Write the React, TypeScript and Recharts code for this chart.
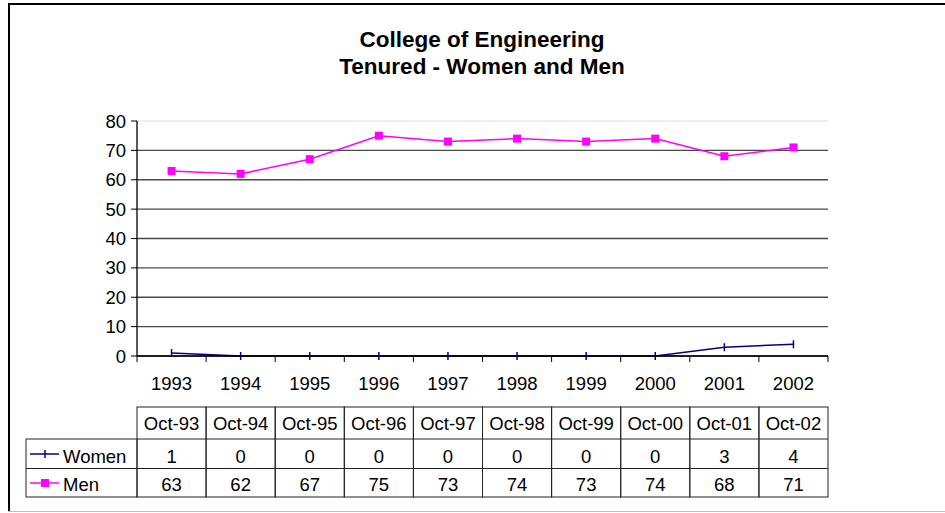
import React from 'react';
import { LineChart, Line, XAxis, YAxis, CartesianGrid } from 'recharts';

const years = ['1993', '1994', '1995', '1996', '1997', '1998', '1999', '2000', '2001', '2002'];
const months = ['Oct-93', 'Oct-94', 'Oct-95', 'Oct-96', 'Oct-97', 'Oct-98', 'Oct-99', 'Oct-00', 'Oct-01', 'Oct-02'];
const women = [1, 0, 0, 0, 0, 0, 0, 0, 3, 4];
const men = [63, 62, 67, 75, 73, 74, 73, 74, 68, 71];
const yTicks = [0, 10, 20, 30, 40, 50, 60, 70, 80];

const data = years.map((year, i) => ({ year, women: women[i], men: men[i] }));

const FONT = '"Liberation Sans", Arial, sans-serif';
const NAVY = '#000080';
const MAGENTA = '#FF00FF';
const W = 945;
const H = 513;
const PLOT_LEFT = 137;
const PLOT_RIGHT = 828;
const LEGEND_LEFT = 26;
const FS = 18.5;

// Women marker: a short vertical dash
const DashDot = (props: any) => {
  const { cx, cy } = props;
  if (cx == null || cy == null) return null;
  return <line x1={cx} x2={cx} y1={cy - 4} y2={cy + 4} stroke={NAVY} strokeWidth={1.5} />;
};

// Men marker: filled square
const SquareDot = (props: any) => {
  const { cx, cy } = props;
  if (cx == null || cy == null) return null;
  return <rect x={cx - 4} y={cy - 4} width={8} height={8} fill={MAGENTA} />;
};

// Each x tick draws its year label plus its column of the data table
const TableTick = (props: any) => {
  const { x, y, payload, index } = props;
  const i = payload?.index ?? index;
  const half = payload?.offset || (PLOT_RIGHT - PLOT_LEFT) / years.length / 2;
  const left = x - half;
  const right = x + half;
  const textStyle = { fontFamily: FONT, fontSize: FS, fill: '#000' };
  const rowTop = y + 51;
  const rowHead = y + 83;
  const rowWomen = y + 112.5;
  const rowMen = y + 141;
  const grid = '#222';

  return (
    <g>
      <line x1={left} x2={left} y1={y} y2={y + 6} stroke="#000" />
      {i === years.length - 1 && <line x1={right} x2={right} y1={y} y2={y + 6} stroke="#000" />}
      <text x={x} y={y + 34} textAnchor="middle" style={textStyle}>
        {years[i]}
      </text>

      <rect x={left} y={rowTop} width={right - left} height={rowMen - rowTop} fill="none" stroke={grid} />
      <line x1={left} x2={right} y1={rowHead} y2={rowHead} stroke={grid} />
      <line x1={left} x2={right} y1={rowWomen} y2={rowWomen} stroke={grid} />
      <text x={x} y={y + 73.5} textAnchor="middle" style={textStyle}>
        {months[i]}
      </text>
      <text x={x} y={y + 106.5} textAnchor="middle" style={textStyle}>
        {women[i]}
      </text>
      <text x={x} y={y + 134.5} textAnchor="middle" style={textStyle}>
        {men[i]}
      </text>

      {i === 0 && (
        <g>
          <rect x={LEGEND_LEFT} y={rowHead} width={left - LEGEND_LEFT} height={rowMen - rowHead} fill="none" stroke={grid} />
          <line x1={LEGEND_LEFT} x2={left} y1={rowWomen} y2={rowWomen} stroke={grid} />
          <line x1={30} x2={59} y1={y + 98} y2={y + 98} stroke={NAVY} strokeWidth={1.5} />
          <line x1={45} x2={45} y1={y + 94} y2={y + 102} stroke={NAVY} strokeWidth={1.5} />
          <text x={63} y={y + 106.5} style={textStyle}>Women</text>
          <line x1={30} x2={59} y1={y + 127} y2={y + 127} stroke={MAGENTA} strokeWidth={1.5} />
          <rect x={41} y={y + 123} width={8} height={8} fill={MAGENTA} />
          <text x={63} y={y + 134.5} style={textStyle}>Men</text>
        </g>
      )}
    </g>
  );
};

const GridLine = (props: any) => {
  const { x1, x2, y1, y2, index } = props;
  const isTop = Math.abs(y1 - 121) < 3;
  return (
    <line
      key={`h-${index}-${y1}`}
      x1={x1}
      x2={x2}
      y1={y1}
      y2={y2}
      stroke={isTop ? '#dddddd' : '#4a4a4a'}
      strokeWidth={isTop ? 1 : 1.4}
    />
  );
};

export default function App() {
  return (
    <div style={{ position: 'absolute', left: 0, top: 0, width: W, height: H, background: '#fff' }}>
      <svg width={W} height={H} style={{ position: 'absolute', left: 0, top: 0 }}>
        <line x1={8} x2={W} y1={4} y2={4} stroke="#000" strokeWidth={2} />
        <line x1={9} x2={9} y1={3} y2={512} stroke="#000" strokeWidth={2} />
        <line x1={8} x2={W} y1={511.5} y2={511.5} stroke="#bbbbbb" strokeWidth={1} />
        <text x={482} y={46.5} textAnchor="middle" style={{ fontFamily: FONT, fontSize: 22.5, fontWeight: 'bold' }}>
          College of Engineering
        </text>
        <text x={482} y={74} textAnchor="middle" style={{ fontFamily: FONT, fontSize: 22.5, fontWeight: 'bold' }}>
          Tenured - Women and Men
        </text>
      </svg>
      <div style={{ position: 'absolute', left: 0, top: 0 }}>
        <LineChart width={W} height={H} data={data} margin={{ top: 121, right: W - PLOT_RIGHT, bottom: 7, left: 77 }}>
          <CartesianGrid vertical={false} horizontal={GridLine} />
          <XAxis
            dataKey="year"
            scale="band"
            interval={0}
            height={150}
            tickSize={0}
            tickMargin={0}
            tickLine={false}
            axisLine={{ stroke: '#000', strokeWidth: 1.3 }}
            tick={<TableTick />}
          />
          <YAxis
            width={60}
            domain={[0, 80]}
            ticks={yTicks}
            interval={0}
            tickSize={6}
            tickMargin={5}
            axisLine={{ stroke: '#000', strokeWidth: 1.3 }}
            tickLine={{ stroke: '#000' }}
            tick={{ fontFamily: FONT, fontSize: FS, fill: '#000' }}
          />
          <Line
            dataKey="women"
            stroke={NAVY}
            strokeWidth={1.5}
            dot={<DashDot />}
            activeDot={false}
            isAnimationActive={false}
          />
          <Line
            dataKey="men"
            stroke={MAGENTA}
            strokeWidth={1.5}
            dot={<SquareDot />}
            activeDot={false}
            isAnimationActive={false}
          />
        </LineChart>
      </div>
    </div>
  );
}
